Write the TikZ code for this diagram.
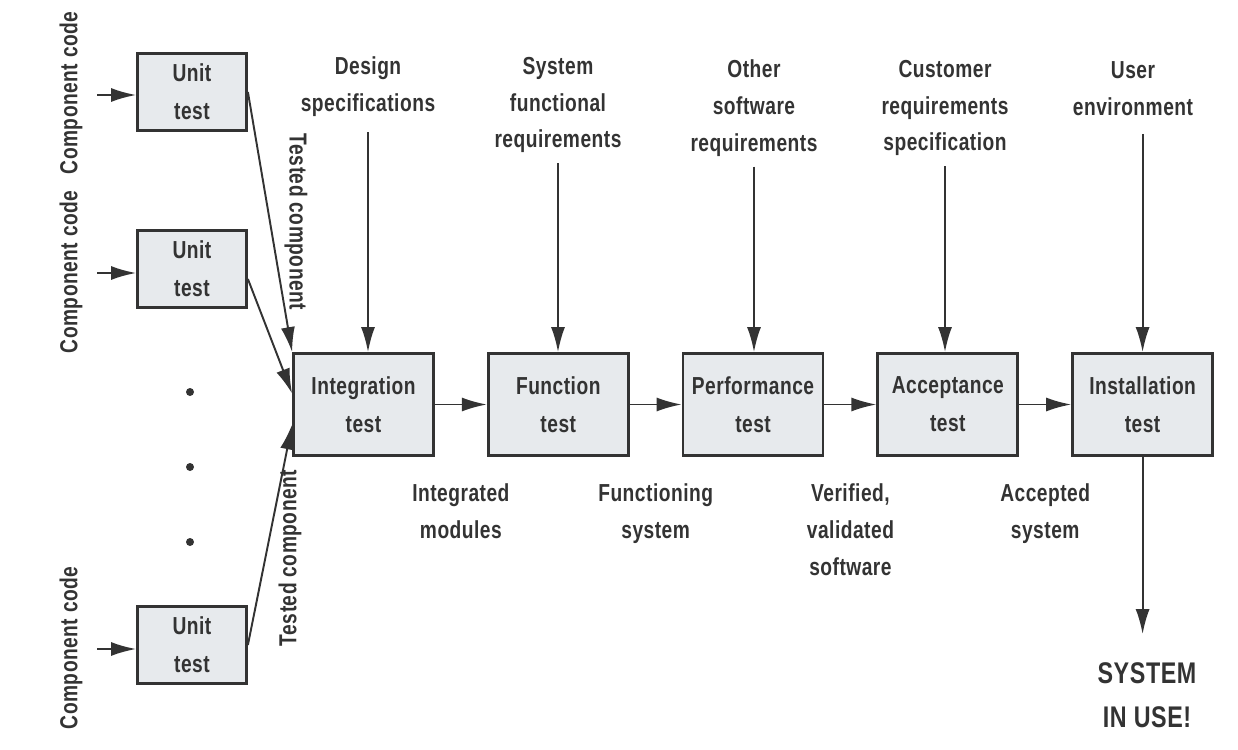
\documentclass[tikz,border=0pt]{standalone}
\usepackage{fontspec}
\setmainfont{Liberation Sans}[FakeStretch=0.78,LetterSpace=2]
\usetikzlibrary{positioning,arrows.meta}
\definecolor{ink}{HTML}{333333}
\definecolor{boxfill}{HTML}{E7EAED}

\begin{document}
\begin{tikzpicture}[
    x=0.02cm, y=-0.02cm,
    testnode/.style={rectangle, draw=ink, fill=boxfill, line width=1.6pt, minimum width=2.8cm, minimum height=2.04cm, align=center, text=ink, font=\bfseries\fontsize{14}{21.5}\selectfont},
    unitnode/.style={testnode, minimum width=2.18cm, minimum height=1.54cm},
    lbl/.style={align=center, text=ink, inner sep=0pt, font=\bfseries\fontsize{14}{21}\selectfont},
    dotnode/.style={circle, fill=ink, inner sep=0pt, minimum size=0.16cm},
    flow/.style={-{Latex[length=0.5cm,width=0.28cm]}, draw=ink, line width=1.1pt},
    node distance=1.04cm
    ]
        \useasboundingbox (0,0) rectangle (1238,750);

        %Nodes
        \node[unitnode] (unit1) at (192,92)  {Unit\\test};
        \node[unitnode] (unit2) at (192,269) {Unit\\test};
        \node[unitnode] (unit3) at (192,645) {Unit\\test};
        \node[dotnode] (dot1) at (190,392) {};
        \node[dotnode] (dot2) at (190,467) {};
        \node[dotnode] (dot3) at (190,542) {};

        \node[lbl, rotate=90] (code1) at (71,93)  {Component code};
        \node[lbl, rotate=90] (code2) at (71,272) {Component code};
        \node[lbl, rotate=90] (code3) at (71,648) {Component code};
        \coordinate (in1) at (97,95);
        \coordinate (in2) at (97,273);
        \coordinate (in3) at (97,649);

        \node[testnode] 
            (inte) at (363.5,404.5)  {Integration\\test};
        \node[testnode] 
            (func) [right=of inte]   {Function\\test};
        \node[testnode] 
            (perf) [right=of func]   {Performance\\test};
        \node[testnode] 
            (acpt) [right=of perf]   {Acceptance\\test};
        \node[testnode] 
            (instl) [right=of acpt]  {Installation\\test};

        \node[lbl] (dsgn) at (368,87)  {Design\\specifications};
        \node[lbl] (sysf) at (558,105) {System\\functional\\requirements};
        \node[lbl] (othr) at (754,108) {Other\\software\\requirements};
        \node[lbl] (cust) at (945,108) {Customer\\requirements\\specification};
        \node[lbl] (user) at (1133,89) {User\\environment};

        \node[lbl, rotate=-90] (tc1) at (296,222) {Tested component};
        \node[lbl, rotate=90]  (tc2) at (290,558) {Tested component};

        \node[lbl, font=\bfseries\fontsize{17}{25}\selectfont] 
            (inuse) at (1147,695) {SYSTEM\\IN USE!};

        %Lines
        \draw[flow] (in1) -- (in1 -| unit1.west);
        \draw[flow] (in2) -- (in2 -| unit2.west);
        \draw[flow] (in3) -- (in3 -| unit3.west);

        \draw[flow] (unit1.east) -- (inte.north west);
        \draw[flow] ([yshift=-0.2cm]unit2.east) -- ([yshift=0.22cm]inte.west);
        \draw[flow] (unit3.east) -- ([yshift=-0.4cm]inte.west);

        \draw[flow, shorten <=0.3cm] (dsgn.south) -- (dsgn.south |- inte.north);
        \draw[flow, shorten <=0.2cm] (sysf.south) -- (sysf.south |- func.north);
        \draw[flow, shorten <=0.2cm] (othr.south) -- (othr.south |- perf.north);
        \draw[flow, shorten <=0.2cm] (cust.south) -- (cust.south |- acpt.north);
        \draw[flow, shorten <=0.35cm] (instl.north |- user.south) -- (instl.north);

        \draw[flow] (inte.east) -- node[lbl, below=1.56cm] {Integrated\\modules} (func.west);
        \draw[flow] (func.east) -- node[lbl, below=1.56cm] {Functioning\\system} (perf.west);
        \draw[flow] (perf.east) -- node[lbl, below=1.56cm] {Verified,\\validated\\software} (acpt.west);
        \draw[flow] (acpt.east) -- node[lbl, below=1.56cm] {Accepted\\system} (instl.west);

        \draw[flow, shorten >=0.56cm] (instl.south) -- (instl.south |- inuse.north);
    \end{tikzpicture}
\end{document}
